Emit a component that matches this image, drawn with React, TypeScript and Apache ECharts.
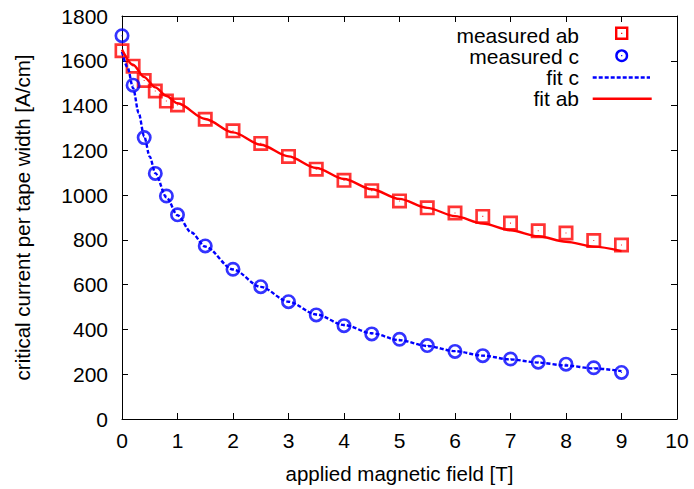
import React, { useEffect, useRef } from 'react';
import * as echarts from 'echarts';

// ---- data ----
const fieldMeasured = [0, 0.2, 0.4, 0.6, 0.8, 1, 1.5, 2, 2.5, 3, 3.5, 4, 4.5, 5, 5.5, 6, 6.5, 7, 7.5, 8, 8.5, 9];
const measuredAb = [1645, 1576, 1512, 1465, 1420, 1403, 1339, 1287, 1231, 1173, 1116, 1066, 1020, 974, 943, 920, 905, 875, 841, 831, 797, 777];
const measuredC = [1712, 1491, 1257, 1097, 996, 912, 773, 669, 591, 524, 465, 417, 380, 356, 328, 302, 283, 268, 254, 245, 229, 208];

const fieldFitAb = [0, 0.2, 0.4, 0.6, 0.8, 1, 1.5, 2, 2.5, 3, 3.5, 4, 4.5, 5, 5.5, 6, 6.5, 7, 7.5, 8, 8.5, 9];
const fitAb = [1650, 1582, 1527, 1481, 1443, 1410, 1340, 1280, 1225, 1173, 1121, 1072, 1026, 983, 943, 906, 873, 843, 816, 792, 770, 750];

const fieldFitC = [0, 0.1, 0.2, 0.3, 0.4, 0.5, 0.6, 0.8, 1, 1.25, 1.5, 2, 2.5, 3, 3.5, 4, 4.5, 5, 5.5, 6, 6.5, 7, 7.5, 8, 8.5, 9];
const fitC = [1640, 1570, 1478, 1367, 1262, 1172, 1098, 990, 910, 833, 770, 668, 590, 524, 467, 420, 383, 352, 326, 303, 283, 266, 252, 239, 226, 214];

const xTicks = { min: 0, max: 10, interval: 1 };
const yTicks = { min: 0, max: 1800, interval: 200 };

const legendNames = ['measured ab', 'measured c', 'fit c', 'fit ab'];

const RED = '#ff0000';
const BLUE = '#0000ff';
const FONT = '"Liberation Sans", Arial, Helvetica, sans-serif';

const squareSymbol =
  'path://M0 0 H28 V28 H0 Z M5 5 V23 H23 V5 Z M13 13 H15 V15 H13 Z';
const circleSymbol =
  'path://M14 0 A14 14 0 1 1 14 28 A14 14 0 1 1 14 0 Z M14 5 A9 9 0 1 0 14 23 A9 9 0 1 0 14 5 Z M13 13 H15 V15 H13 Z';

const zip = (xs: number[], ys: number[]) => xs.map((x, i) => [x, ys[i]]);

export default function App() {
  const ref = useRef<HTMLDivElement>(null);

  useEffect(() => {
    if (!ref.current) return;
    const chart = echarts.init(ref.current, null, { renderer: 'svg' });

    const axisCommon = {
      axisLine: { show: true, onZero: false, lineStyle: { color: '#000', width: 1 } },
      axisTick: { show: true, inside: true, length: 6, lineStyle: { color: '#000', width: 1 } },
      splitLine: { show: false },
    };
    const tickStyle = { color: '#000', fontSize: 21, fontFamily: FONT, formatter: (v: number) => String(v) };
    const titleStyle = { color: '#000', fontSize: 20.5, fontFamily: FONT };

    const legendY = [35, 56.3, 77.5, 98.7];
    const textX = 579;
    const iconX = 621.7;
    const graphic: any[] = [];
    legendNames.forEach((name, i) => {
      graphic.push({
        type: 'text',
        x: textX,
        y: legendY[i],
        style: {
          text: name,
          align: 'right',
          verticalAlign: 'middle',
          fill: '#000',
          fontSize: 21,
          lineHeight: 20,
          fontFamily: FONT,
        },
      });
    });
    // measured ab icon
    graphic.push({
      type: 'rect',
      shape: { x: iconX - 5.5, y: legendY[0] - 1.7 - 5.5, width: 11, height: 11 },
      style: { fill: 'none', stroke: RED, lineWidth: 2.4 },
    });
    graphic.push({
      type: 'rect',
      shape: { x: iconX - 0.6, y: legendY[0] - 1.7 - 0.6, width: 1.2, height: 1.2 },
      style: { fill: RED },
    });
    // measured c icon
    graphic.push({
      type: 'circle',
      shape: { cx: iconX, cy: legendY[1] - 0.6, r: 5.3 },
      style: { fill: 'none', stroke: BLUE, lineWidth: 2.4 },
    });
    graphic.push({
      type: 'rect',
      shape: { x: iconX - 0.6, y: legendY[1] - 0.6 - 0.6, width: 1.2, height: 1.2 },
      style: { fill: BLUE },
    });
    // fit c icon
    graphic.push({
      type: 'line',
      shape: { x1: 592.7, y1: legendY[2], x2: 650, y2: legendY[2] },
      style: { stroke: BLUE, lineWidth: 2.4, lineDash: [4, 2] },
    });
    // fit ab icon
    graphic.push({
      type: 'line',
      shape: { x1: 592.7, y1: legendY[3], x2: 651.7, y2: legendY[3] },
      style: { stroke: RED, lineWidth: 2.4 },
    });

    chart.setOption({
      animation: false,
      backgroundColor: '#fff',
      grid: { left: 122, right: 17, top: 16, bottom: 68, containLabel: false },
      xAxis: [
        {
          type: 'value',
          position: 'bottom',
          ...xTicks,
          ...axisCommon,
          axisLabel: { ...tickStyle, margin: 11 },
          name: 'applied magnetic field [T]',
          nameLocation: 'middle',
          nameGap: 44,
          nameTextStyle: { ...titleStyle },
        },
        {
          type: 'value',
          position: 'top',
          ...xTicks,
          ...axisCommon,
          axisLabel: { show: false },
        },
      ],
      yAxis: [
        {
          type: 'value',
          position: 'left',
          ...yTicks,
          ...axisCommon,
          axisLabel: { ...tickStyle, margin: 14 },
          name: 'critical current per tape width [A/cm]',
          nameLocation: 'middle',
          nameGap: 89,
          nameTextStyle: { ...titleStyle },
        },
        {
          type: 'value',
          position: 'right',
          ...yTicks,
          ...axisCommon,
          axisLabel: { show: false },
        },
      ],
      series: [
        {
          name: legendNames[0],
          type: 'scatter',
          data: zip(fieldMeasured, measuredAb),
          symbol: squareSymbol,
          symbolSize: 15,
          itemStyle: { color: RED },
          z: 2,
        },
        {
          name: legendNames[1],
          type: 'scatter',
          data: zip(fieldMeasured, measuredC),
          symbol: circleSymbol,
          symbolSize: 15,
          itemStyle: { color: BLUE },
          z: 2,
        },
        {
          name: legendNames[2],
          type: 'line',
          data: zip(fieldFitC, fitC),
          showSymbol: false,
          symbol: 'none',
          smooth: 0.3,
          smoothMonotone: 'x',
          lineStyle: { color: BLUE, width: 2.4, type: [4, 2] },
          z: 3,
        },
        {
          name: legendNames[3],
          type: 'line',
          data: zip(fieldFitAb, fitAb),
          showSymbol: false,
          symbol: 'none',
          smooth: 0.3,
          smoothMonotone: 'x',
          lineStyle: { color: RED, width: 2.4 },
          z: 3,
        },
      ],
      graphic,
    });

    return () => chart.dispose();
  }, []);

  return (
    <div
      ref={ref}
      style={{ position: 'fixed', left: 0, top: 0, width: 694, height: 489, background: '#fff' }}
    />
  );
}
